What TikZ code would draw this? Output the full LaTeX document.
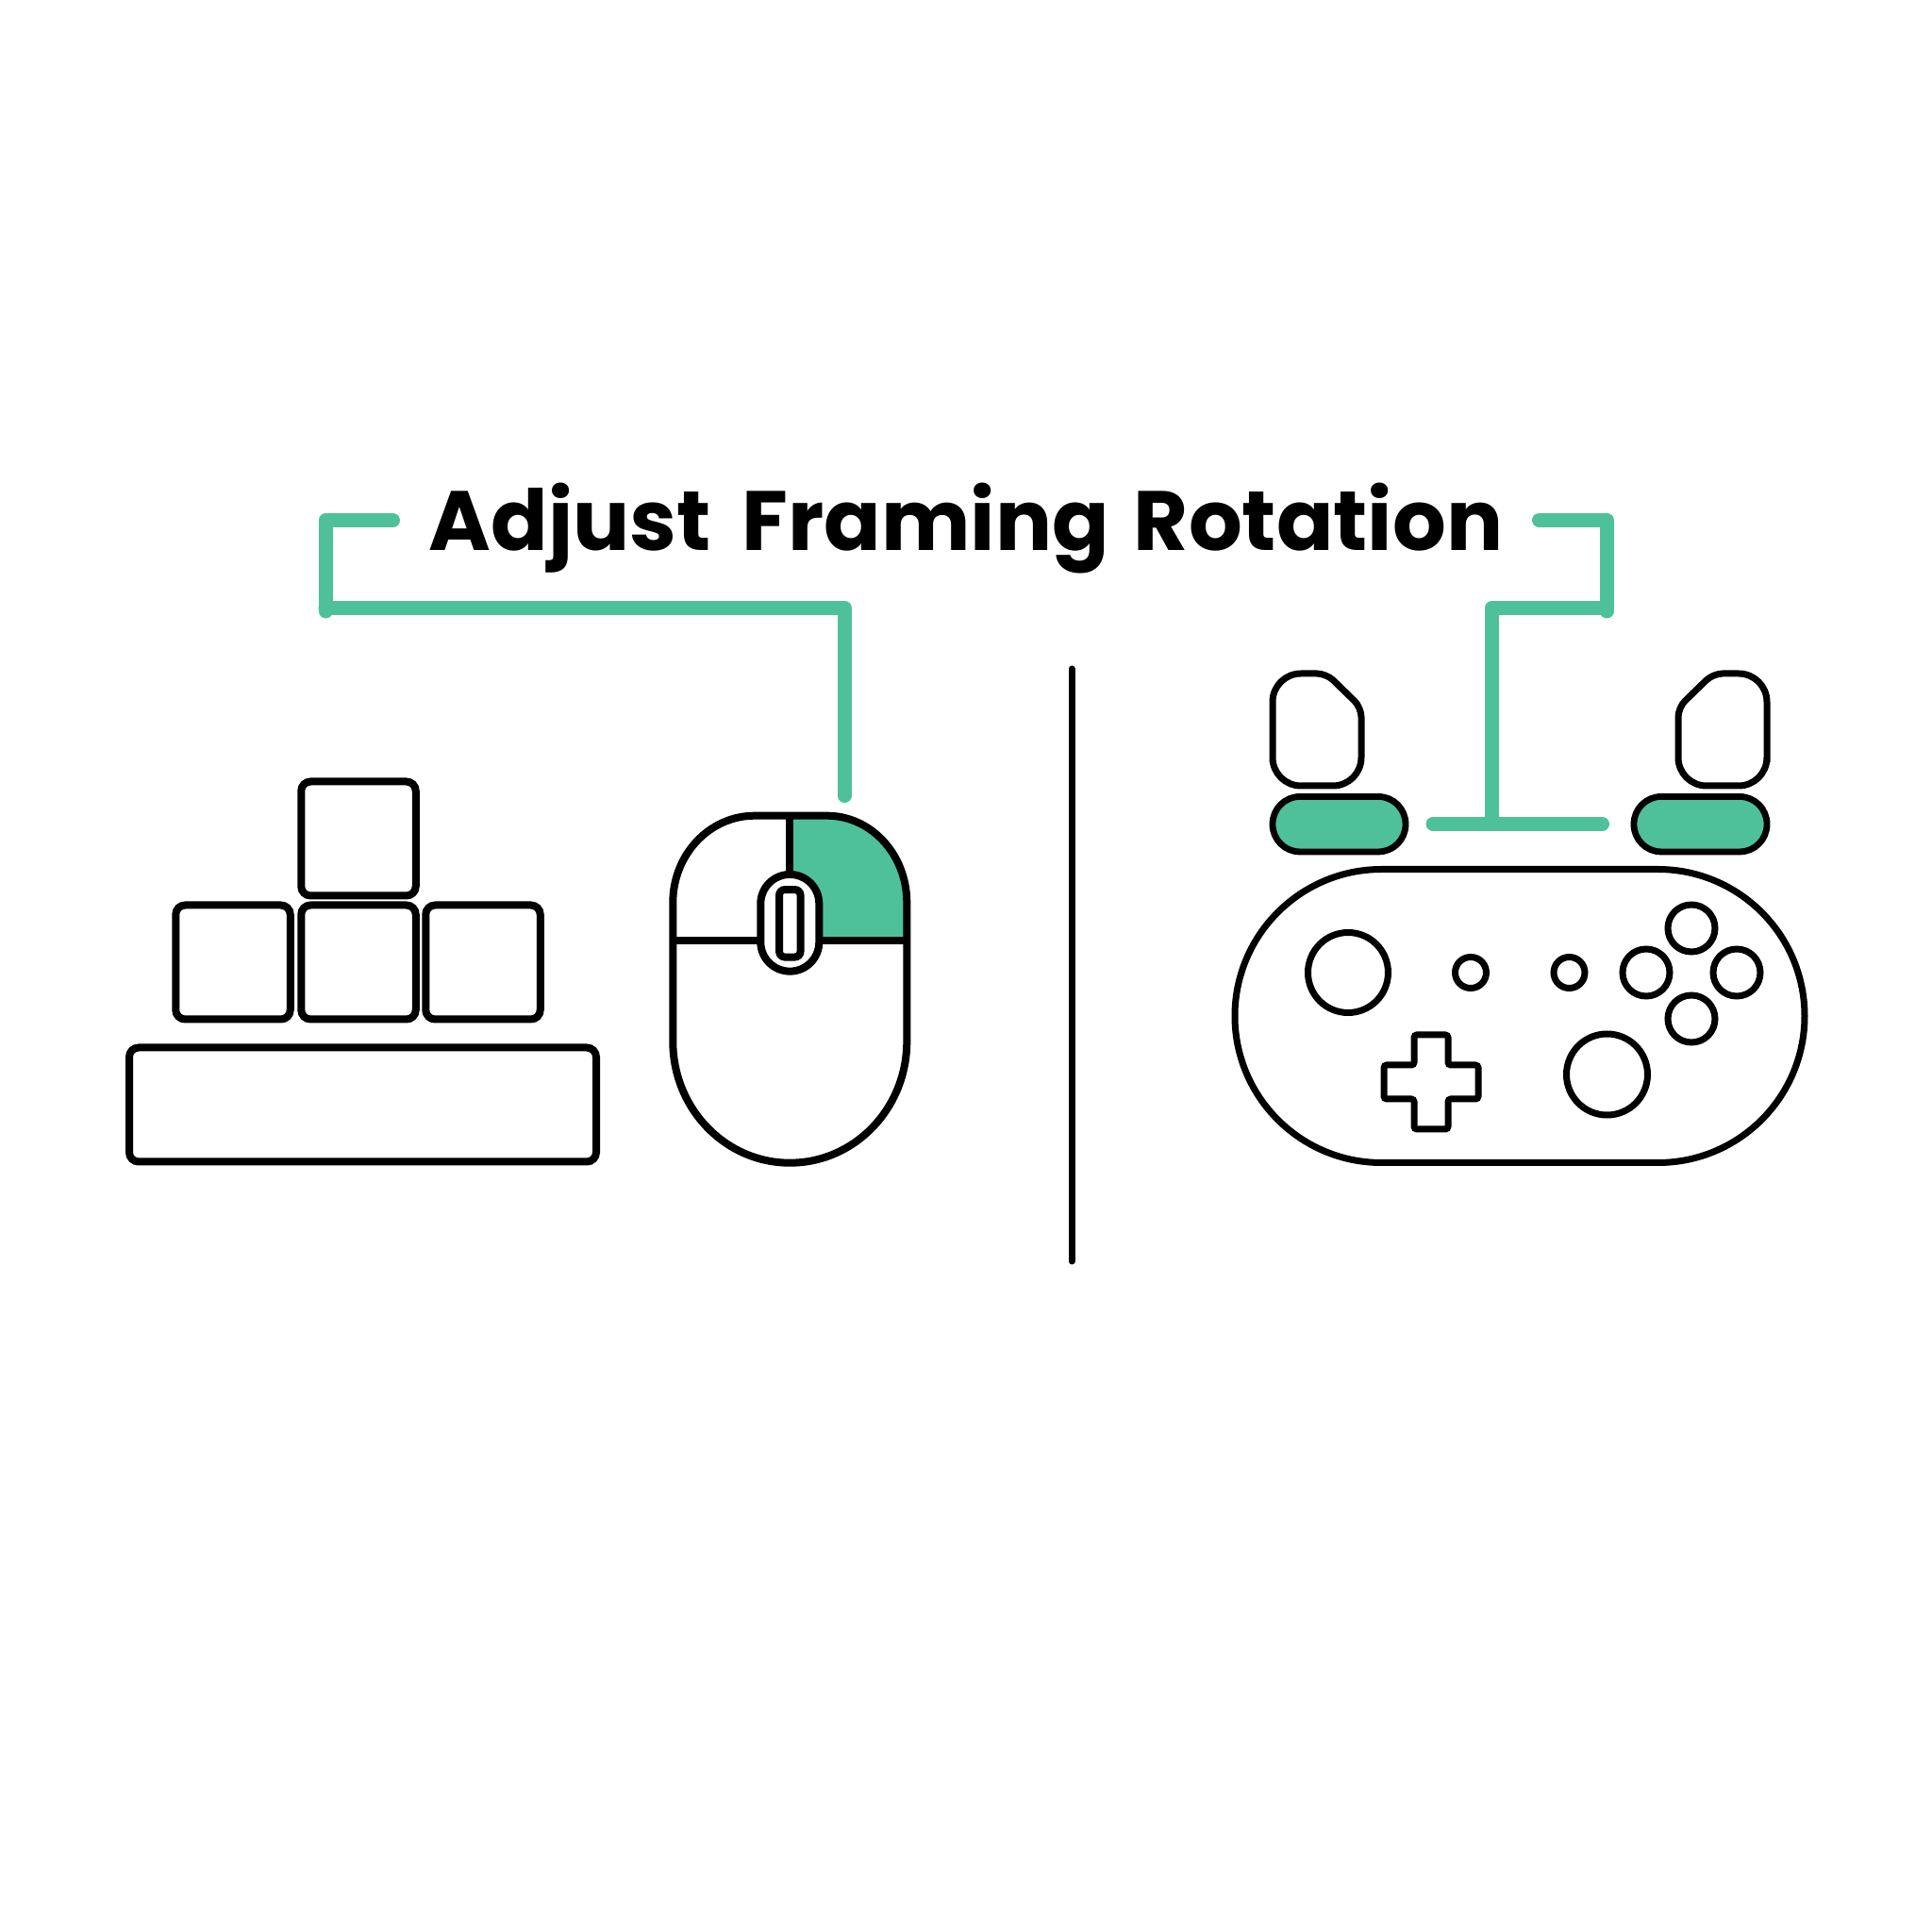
\documentclass[tikz,border=0pt]{standalone}
\usepackage{fontspec}
\setmainfont{Poppins}
\definecolor{mint}{HTML}{4EC19B}
\begin{document}
\begin{tikzpicture}[
        key/.style={draw, line width=0.08cm, rounded corners=0.1cm, inner sep=0pt, minimum width=1.215cm, minimum height=1.21cm},
        btn/.style={draw, circle, line width=0.07cm, inner sep=0pt},
        pill/.style={draw, fill=mint, line width=0.068cm, rounded corners=0.29cm, inner sep=0pt, minimum width=1.41cm, minimum height=0.585cm},
        link/.style={draw=mint, line width=0.15cm, line cap=round, line join=round},
        outline/.style={draw, line width=0.08cm, line join=round}
    ]
        \useasboundingbox (0,0) rectangle (20.48,20.48);

        % title
        \node[anchor=base west, inner sep=0pt] (title) at (4.54,14.64) {\fontsize{25.4}{25.4}\selectfont\bfseries Adjust\hspace{4pt} Framing\hspace{2pt} Rotation};

        % keyboard
        \node[key] (keyW) at (3.80,11.59) {};
        \node[key] (keyA) at (2.47,10.28) {};
        \node[key] (keyS) at (3.80,10.28) {};
        \node[key] (keyD) at (5.12,10.28) {};
        \node[key, minimum width=4.95cm] (space) at (3.845,8.77) {};

        % mouse
        \fill[mint] (8.373,11.833) -- (8.767,11.833) arc[x radius=0.846, y radius=0.92, start angle=90, end angle=0] -- (9.613,10.507) -- (8.373,10.507) -- cycle;
        \draw[outline] (7.133,9.44) -- (7.133,10.913) arc[x radius=0.867, y radius=0.92, start angle=180, end angle=90] -- (8.767,11.833) arc[x radius=0.846, y radius=0.92, start angle=90, end angle=0] -- (9.613,9.44) arc[x radius=1.24, y radius=1.287, start angle=0, end angle=-180] -- cycle;
        \draw[outline] (7.133,10.507) -- (9.613,10.507);
        \draw[outline] (8.373,11.833) -- (8.373,10.7);
        \node[draw, fill=white, line width=0.08cm, rounded corners=0.31cm, inner sep=0pt, minimum width=0.62cm, minimum height=1.027cm] (scroll) at (8.373,10.697) {};
        \node[draw, line width=0.08cm, rounded corners=0.06cm, inner sep=0pt, minimum width=0.225cm, minimum height=0.715cm] (wheel) at (8.373,10.692) {};

        % divider
        \coordinate (divtop) at (11.36,13.39);
        \coordinate (divbot) at (11.36,7.11);
        \draw[line width=0.07cm, line cap=round] (divtop) -- (divbot);

        % gamepad
        \node[draw, line width=0.07cm, rounded corners=1.555cm, inner sep=0pt, minimum width=6.04cm, minimum height=3.11cm] (pad) at (16.11,9.71) {};
        \node[btn, minimum size=0.85cm] (stickL) at (14.29,10.17) {};
        \node[btn, minimum size=0.86cm] (stickR) at (17.035,9.09) {};
        \node[btn, minimum size=0.33cm] (back) at (15.59,10.17) {};
        \node[btn, minimum size=0.33cm] (start) at (16.635,10.17) {};
        \node[btn, minimum size=0.50cm] (btnY) at (17.93,10.64) {};
        \node[btn, minimum size=0.50cm] (btnX) at (17.45,10.17) {};
        \node[btn, minimum size=0.50cm] (btnB) at (18.41,10.17) {};
        \node[btn, minimum size=0.50cm] (btnA) at (17.93,9.68) {};
        \draw[line width=0.07cm, rounded corners=0.03cm] (15.17,9.01) ++(-0.18,0.5) -- ++(0.36,0) -- ++(0,-0.32) -- ++(0.32,0) -- ++(0,-0.36) -- ++(-0.32,0) -- ++(0,-0.32) -- ++(-0.36,0) -- ++(0,0.32) -- ++(-0.32,0) -- ++(0,0.36) -- ++(0.32,0) -- cycle;

        % triggers
        \draw[line width=0.07cm, rounded corners=0.3cm] (13.49,12.7) -- (13.49,13.34) [rounded corners=0.1cm] -- (14.06,13.34) -- (14.43,12.98) [rounded corners=0.3cm] -- (14.43,12.15) -- (13.49,12.15) -- cycle;
        \draw[line width=0.07cm, rounded corners=0.3cm] (18.73,12.7) -- (18.73,13.34) [rounded corners=0.1cm] -- (18.16,13.34) -- (17.79,12.98) [rounded corners=0.3cm] -- (17.79,12.15) -- (18.73,12.15) -- cycle;
        \node[pill] (bumpL) at (14.195,11.743) {};
        \node[pill] (bumpR) at (18.025,11.743) {};

        % links
        \coordinate (la) at (4.165,14.965);
        \coordinate (lb) at (3.45,14.965);
        \coordinate (lc) at (3.45,14.035);
        \coordinate (lk) at (3.45,14.0);
        \coordinate (ld) at (8.95,14.035);
        \coordinate (le) at (8.95,12.045);
        \coordinate (ra) at (16.315,14.965);
        \coordinate (rb) at (17.03,14.965);
        \coordinate (rc) at (17.03,14.035);
        \coordinate (rk) at (17.03,14.0);
        \coordinate (rd) at (15.815,14.035);
        \coordinate (re) at (15.815,11.745);
        \coordinate (rf) at (15.19,11.745);
        \coordinate (rg) at (16.985,11.745);
        \draw[link] (la) -- (lb) -- (lk);
        \draw[link] (lc) -- (ld) -- (le);
        \draw[link] (ra) -- (rb) -- (rk);
        \draw[link] (rc) -- (rd) -- (re);
        \draw[link] (rf) -- (rg);
    \end{tikzpicture}
\end{document}
